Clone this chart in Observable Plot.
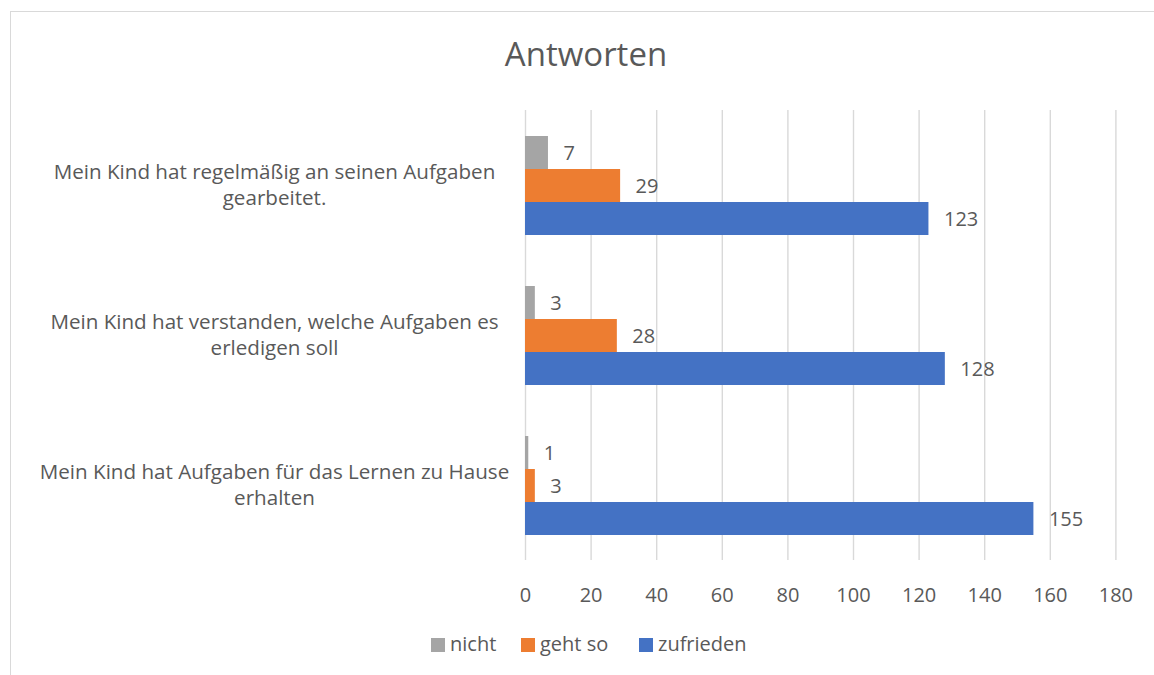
<!DOCTYPE html>
<html>
<head>
<meta charset="utf-8">
<script src="https://cdn.jsdelivr.net/npm/d3@7"></script>
<script src="https://cdn.jsdelivr.net/npm/@observablehq/plot@0.6"></script>
<style>
  html, body { margin: 0; padding: 0; background: #fff; overflow: hidden; }
  #wrap { position: relative; width: 1154px; height: 675px; overflow: hidden; font-family: "Open Sans", sans-serif; color: #595959; }
  #border { position: absolute; left: 10px; top: 11px; width: 1300px; height: 720px; border-left: 1.5px solid #d9d9d9; border-top: 1.5px solid #d9d9d9; box-sizing: border-box; }
  #title { position: absolute; left: 0; width: 1172px; top: 37px; text-align: center; font-size: 33px; line-height: 1; }
  #chart { position: absolute; left: 0; top: 95px; }
  .lg { position: absolute; top: 634px; font-size: 20px; line-height: 1; white-space: nowrap; }
  .sw { position: absolute; top: 638px; width: 14px; height: 14px; }
</style>
</head>
<body>
<div id="wrap">
  <div id="border"></div>
  <div id="title">Antworten</div>
  <div id="chart"></div>
  <div id="legend"></div>
</div>
<script>
const questions = [
  "Mein Kind hat regelmäßig an seinen Aufgaben\ngearbeitet.",
  "Mein Kind hat verstanden, welche Aufgaben es\nerledigen soll",
  "Mein Kind hat Aufgaben für das Lernen zu Hause\nerhalten"
];
const series = ["nicht", "geht so", "zufrieden"];
const nicht = [7, 3, 1];
const gehtSo = [29, 28, 3];
const zufrieden = [123, 128, 155];
const colors = ["#A5A5A5", "#ED7D31", "#4472C4"];
const xTicks = [0, 20, 40, 60, 80, 100, 120, 140, 160, 180];

const seriesValues = [nicht, gehtSo, zufrieden];
const rows = [];
questions.forEach((q, i) => {
  series.forEach((s, j) => rows.push({question: q, series: s, value: seriesValues[j][i]}));
});

const chart = Plot.plot({
  width: 1154,
  height: 525,
  marginLeft: 525,
  marginRight: 38.6,
  marginTop: 15,
  marginBottom: 60,
  style: {fontFamily: "Open Sans", fontSize: "20px", color: "#595959", background: "transparent"},
  x: {domain: [0, 180]},
  fy: {domain: questions, padding: 0},
  y: {domain: series, paddingInner: 0, paddingOuter: 0.75, axis: null},
  color: {domain: series, range: colors},
  marks: [
    Plot.gridX(xTicks, {stroke: "#d9d9d9", strokeOpacity: 1, strokeWidth: 1.4}),
    Plot.barX(rows, {x: "value", y: "series", fy: "question", fill: "series"}),
    Plot.text(rows, {x: "value", y: "series", fy: "question", text: d => String(d.value),
      textAnchor: "start", dx: 15, dy: 1, fill: "#595959", fontSize: 20}),
    Plot.axisX({ticks: xTicks, tickSize: 0, tickPadding: 27, label: null, fontSize: 20}),
    Plot.axisFy({anchor: "left", tickSize: 0, tickPadding: 251, textAnchor: "middle",
      lineHeight: 1.25, dy: -2, label: null, fontSize: 20.6})
  ]
});
document.getElementById("chart").appendChild(chart);

const legend = document.getElementById("legend");
const swLeft = [431, 521, 639];
series.forEach((s, i) => {
  const sw = document.createElement("div");
  sw.className = "sw";
  sw.style.left = swLeft[i] + "px";
  sw.style.background = colors[i];
  legend.appendChild(sw);
  const t = document.createElement("div");
  t.className = "lg";
  t.style.left = (swLeft[i] + 19) + "px";
  t.textContent = s;
  legend.appendChild(t);
});
</script>
</body>
</html>
